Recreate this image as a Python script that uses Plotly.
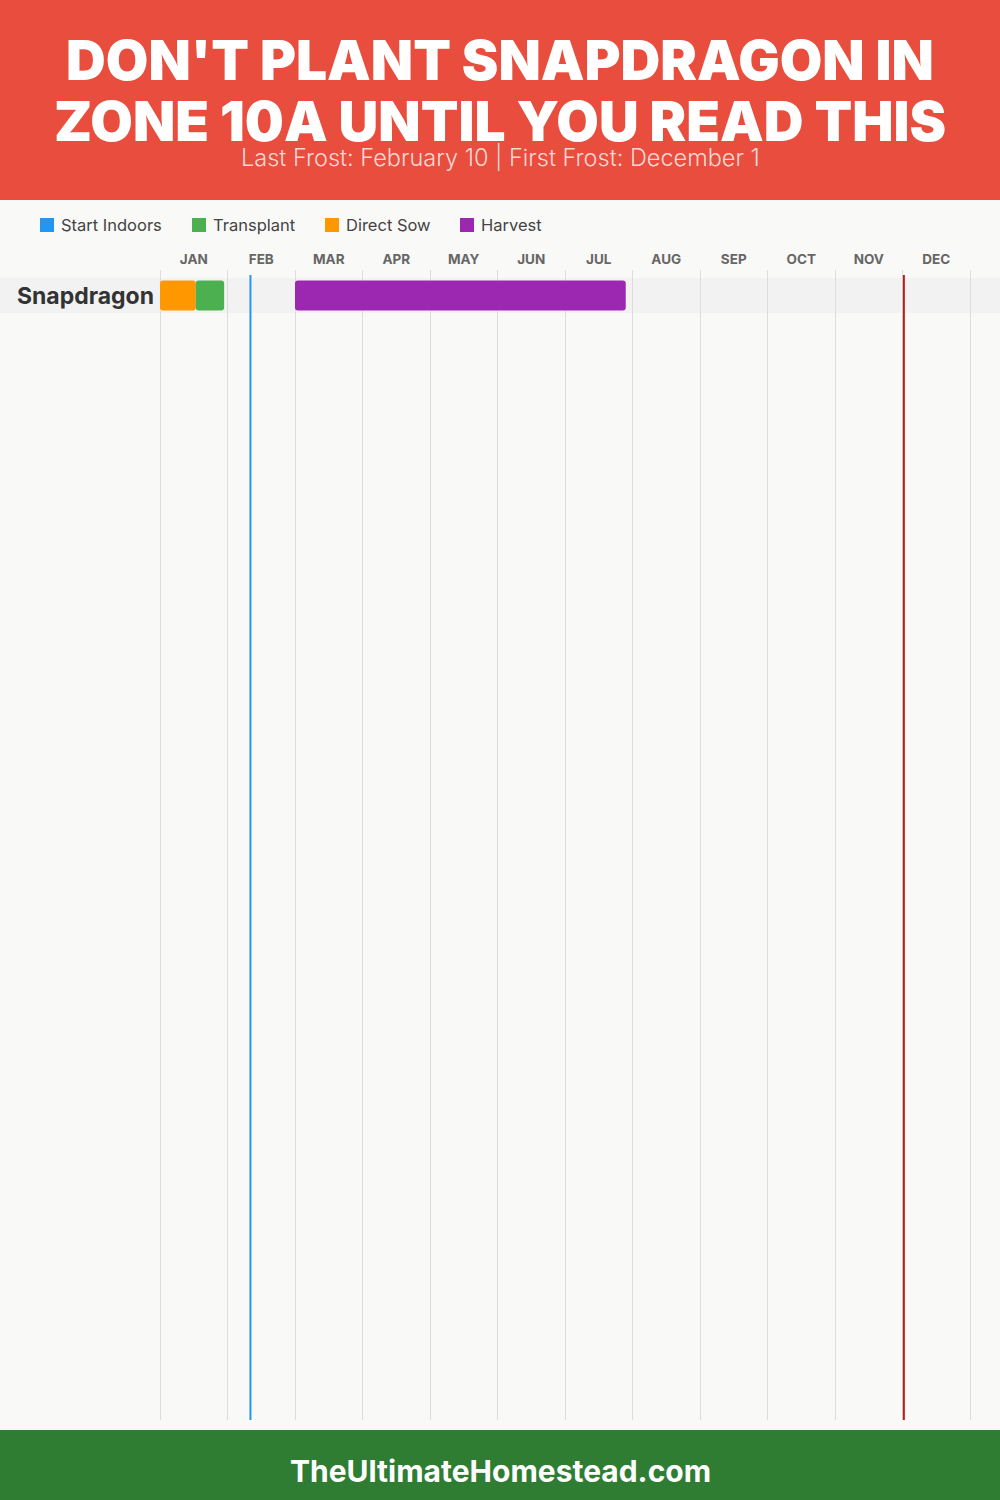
import plotly.graph_objects as go

# ---------------- data ----------------
title_lines = ["DON'T PLANT SNAPDRAGON IN", "ZONE 10A UNTIL YOU READ THIS"]
subtitle = "Last Frost: February 10 | First Frost: December 1"
footer_text = "TheUltimateHomestead.com"

months = ["JAN", "FEB", "MAR", "APR", "MAY", "JUN", "JUL", "AUG", "SEP", "OCT", "NOV", "DEC"]
crops = ["Snapdragon"]

phase_names = ["Start Indoors", "Transplant", "Direct Sow", "Harvest"]
phase_colors = ["#2196F3", "#4CAF50", "#FF9800", "#9C27B0"]

# month-index positions (0 = Jan 1, 12 = end of Dec)
direct_sow_start = [0.0]
direct_sow_end = [0.53]
transplant_start = [0.53]
transplant_end = [0.95]
harvest_start = [2.0]
harvest_end = [6.9]

last_frost = 1.34   # Feb 10
first_frost = 11.02  # Dec 1

# ---------------- figure ----------------
W, H = 1000, 1500
MONTH_PX = 67.5
PAD = 2  # extra px on each side so the edge grid lines are drawn
ML, MR, MT, MB = 160 - PAD, 30 - PAD, 270, 80
ROW_PX = 35
plot_w = W - ML - MR
plot_h = H - MT - MB
y_top = -25.5 / ROW_PX
y_bot = y_top + plot_h / ROW_PX
x_lo = -PAD / MONTH_PX
x_hi = 12 + PAD / MONTH_PX

BG = "#F9F9F7"
FONT = "Inter"


def px_x(px):
    return (px - ML) / plot_w


def px_y(py):
    return (H - py - MB) / plot_h


fig = go.Figure()


def add_phase(starts, ends, color, name):
    fig.add_trace(go.Bar(
        y=list(range(len(crops))),
        base=starts,
        x=[e - s for s, e in zip(starts, ends)],
        orientation="h",
        width=30 / ROW_PX,
        marker=dict(color=color, line=dict(width=0), cornerradius=3),
        name=name,
        showlegend=False,
        hoverinfo="skip",
    ))


add_phase(direct_sow_start, direct_sow_end, phase_colors[2], phase_names[2])
add_phase(transplant_start, transplant_end, phase_colors[1], phase_names[1])
add_phase(harvest_start, harvest_end, phase_colors[3], phase_names[3])

shapes = []
# header / footer
shapes.append(dict(type="rect", xref="paper", yref="paper", x0=px_x(0), x1=px_x(W),
                   y0=px_y(200), y1=px_y(0), fillcolor="#E84D3D", line=dict(width=0), layer="above"))
shapes.append(dict(type="rect", xref="paper", yref="paper", x0=px_x(0), x1=px_x(W),
                   y0=px_y(H), y1=px_y(1430), fillcolor="#2E7D32", line=dict(width=0), layer="above"))
# row bands
for i, _ in enumerate(crops):
    shapes.append(dict(type="rect", xref="paper", yref="y", x0=px_x(0), x1=px_x(W),
                       y0=i - 0.5, y1=i + 0.5, fillcolor="#F2F2F2", line=dict(width=0), layer="between"))
# frost lines
shapes.append(dict(type="line", xref="x", yref="paper", x0=last_frost, x1=last_frost,
                   y0=px_y(1420), y1=px_y(275), line=dict(color="#2196F3", width=2), layer="above"))
shapes.append(dict(type="line", xref="x", yref="paper", x0=first_frost, x1=first_frost,
                   y0=px_y(1420), y1=px_y(275), line=dict(color="#B71C1C", width=2), layer="above"))

annotations = []
annotations.append(dict(text=title_lines[0], xref="paper", yref="paper", x=px_x(500), y=px_y(60),
                        xanchor="center", yanchor="middle", showarrow=False,
                        font=dict(family=FONT, size=55, color="white", weight=900)))
annotations.append(dict(text=title_lines[1], xref="paper", yref="paper", x=px_x(500), y=px_y(121),
                        xanchor="center", yanchor="middle", showarrow=False,
                        font=dict(family=FONT, size=55, color="white", weight=900)))
annotations.append(dict(text=subtitle, xref="paper", yref="paper", x=px_x(500), y=px_y(157),
                        xanchor="center", yanchor="middle", showarrow=False,
                        font=dict(family=FONT, size=23.5, color="rgba(255,255,255,0.78)", weight=300)))
annotations.append(dict(text=footer_text, xref="paper", yref="paper", x=px_x(500), y=px_y(1471),
                        xanchor="center", yanchor="middle", showarrow=False,
                        font=dict(family=FONT, size=30, color="white", weight=700)))

# legend (manual)
legend_x = [40, 192, 325, 460]
for name, color, lx in zip(phase_names, phase_colors, legend_x):
    shapes.append(dict(type="rect", xref="paper", yref="paper",
                       x0=px_x(lx), x1=px_x(lx + 14), y0=px_y(232), y1=px_y(218),
                       fillcolor=color, line=dict(width=0)))
    annotations.append(dict(text=name, xref="paper", yref="paper",
                            x=px_x(lx + 19), y=px_y(225),
                            xanchor="left", yanchor="middle", showarrow=False,
                            font=dict(family=FONT, size=16.5, color="#444444")))

fig.update_layout(
    width=W, height=H,
    margin=dict(l=ML, r=MR, t=MT, b=MB, pad=0),
    paper_bgcolor=BG, plot_bgcolor=BG,
    barmode="overlay",
    shapes=shapes,
    annotations=annotations,
    xaxis=dict(
        range=[x_lo, x_hi], side="top",
        tickvals=[i + 0.5 for i in range(12)], ticktext=months,
        showgrid=False, zeroline=False, showline=False,
        ticks="", ticklabelstandoff=2,
        tickfont=dict(family=FONT, size=13.5, color="#666666", weight=700),
        minor=dict(tick0=0, dtick=1, showgrid=True, gridcolor="#DDDDDD", gridwidth=1, ticks=""),
        fixedrange=True,
    ),
    yaxis=dict(
        range=[y_bot, y_top],
        tickvals=list(range(len(crops))), ticktext=crops,
        showgrid=False, zeroline=False, showline=False, ticks="",
        ticklabelstandoff=3,
        tickfont=dict(family=FONT, size=23, color="#333333", weight=700),
        fixedrange=True,
    ),
)

fig.write_html("out.html", config={"displayModeBar": False, "staticPlot": True},
               post_script="document.body.style.margin='0';document.body.style.padding='0';")
